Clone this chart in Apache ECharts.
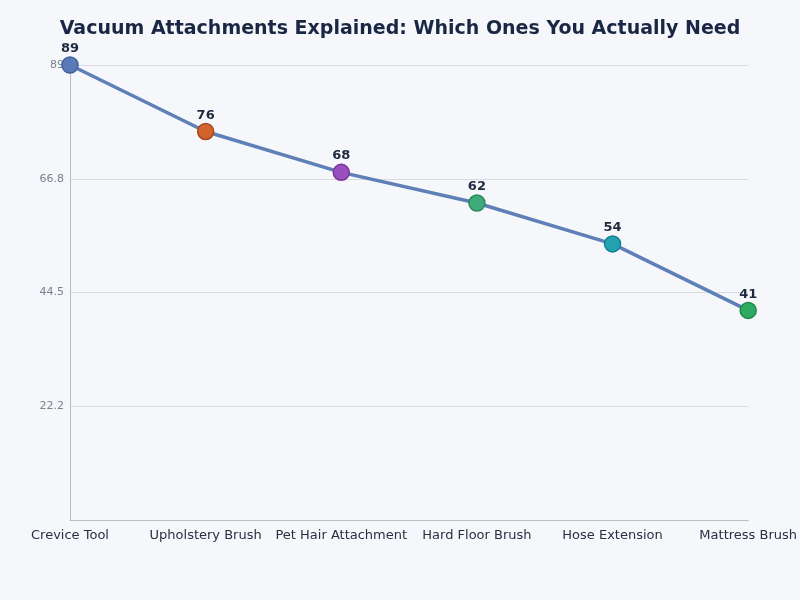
<!DOCTYPE html>
<html>
<head>
<meta charset="utf-8">
<script src="https://cdn.jsdelivr.net/npm/echarts@6/dist/echarts.min.js"></script>
<style>
  html, body { margin: 0; padding: 0; background: #f5f7fb; }
  #main { width: 800px; height: 600px; }
</style>
</head>
<body>
<div id="main"></div>
<script>
var categories = ['Crevice Tool', 'Upholstery Brush', 'Pet Hair Attachment', 'Hard Floor Brush', 'Hose Extension', 'Mattress Brush'];
var values = [89, 76, 68, 62, 54, 41];
var pointColors = ['#5b7bb8', '#d2642c', '#9a4fbf', '#3faa7a', '#22a2b2', '#2faa62'];
var pointBorders = ['#44609a', '#a8481a', '#7a3499', '#2a8a5c', '#14808e', '#1d8a48'];
var tickLabels = { 22.25: '22.2', 44.5: '44.5', 66.75: '66.8', 89: '89' };

var chartDom = document.getElementById('main');
var myChart = echarts.init(chartDom);

var option = {
  backgroundColor: '#f5f7fb',
  textStyle: { fontFamily: 'DejaVu Sans' },
  title: {
    text: 'Vacuum Attachments Explained: Which Ones You Actually Need',
    left: 'center',
    top: 15,
    textStyle: { fontSize: 19, fontWeight: 'bold', color: '#1a2744', fontFamily: 'DejaVu Sans' }
  },
  grid: { left: 70, right: 48, top: 65, bottom: 80 },
  xAxis: {
    type: 'category',
    boundaryGap: false,
    data: categories,
    axisLine: { show: true, lineStyle: { color: '#b8bcc6' } },
    axisTick: { show: false },
    axisLabel: { color: '#2a3040', fontSize: 13, margin: 9, interval: 0 }
  },
  yAxis: {
    type: 'value',
    min: 0,
    max: 89,
    interval: 22.25,
    axisLine: { show: true, lineStyle: { color: '#b8bcc6' } },
    axisTick: { show: false },
    splitLine: { lineStyle: { color: '#d8dbe2' } },
    axisLabel: {
      color: '#7a808c',
      fontSize: 11,
      margin: 6,
      formatter: function (v) { return tickLabels[v] || ''; }
    }
  },
  series: [
    {
      type: 'line',
      data: values.map(function (v, i) {
        return { value: v, itemStyle: { color: pointColors[i], borderColor: pointBorders[i] } };
      }),
      symbol: 'circle',
      symbolSize: 16,
      lineStyle: { color: '#5f7fb8', width: 3.5 },
      itemStyle: { borderWidth: 1.5 },
      label: {
        show: true,
        position: 'top',
        distance: 1,
        color: '#1f2a40',
        fontSize: 13,
        fontWeight: 'bold'
      }
    }
  ]
};

option && myChart.setOption(option);
</script>
</body>
</html>
